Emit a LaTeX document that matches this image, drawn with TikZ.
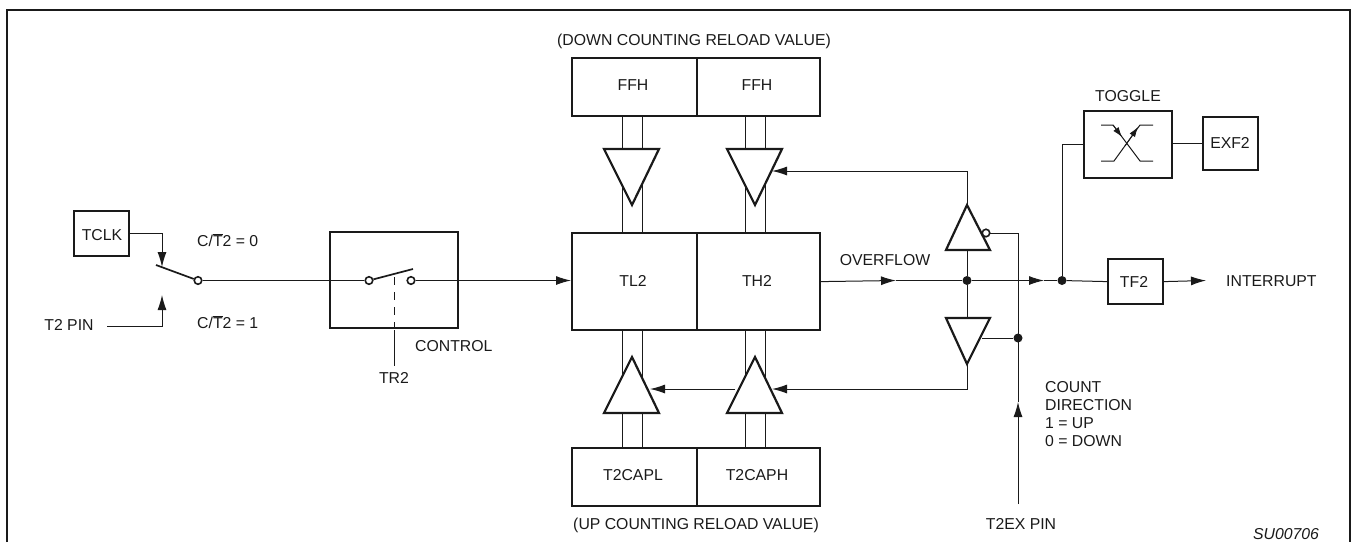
\documentclass[tikz,border=0pt]{standalone}
\usepackage{fontspec}
\setmainfont{Liberation Sans}
\usetikzlibrary{arrows.meta}
\definecolor{ink}{HTML}{1A1A1A}
\tikzset{
  x=1pt,y=-1pt,
  every node/.style={font=\fontsize{15.8}{18}\selectfont,text=ink,inner sep=0pt},
  thick box/.style={draw=ink,line width=2.2pt,line join=miter,anchor=north west},
  wire/.style={draw=ink,line width=1pt},
  tri/.style={draw=ink,line width=2.2pt,fill=white,line join=miter},
  arr/.style={wire,-{Latex[length=15pt,width=9pt]}},
  junction/.style={circle,fill=ink,minimum size=9pt},
  ring/.style={circle,draw=ink,line width=1.6pt,fill=white,minimum size=7.5pt},
}
\begin{document}
\begin{tikzpicture}
\useasboundingbox (0,0) rectangle (1353,542);
% frame
\draw[draw=ink,line width=2.4pt] (7,542) -- (7,10) -- (1350,10) -- (1350,542);
% boxes
\node[thick box,minimum width=55pt,minimum height=45pt] (tclk) at (73,210) {};
\node[thick box,minimum width=128pt,minimum height=96pt] (ctl) at (329,231) {};
\node[thick box,minimum width=125pt,minimum height=58pt] (ffhl) at (571,57) {};
\node[thick box,minimum width=123pt,minimum height=58pt] (ffhh) at (696,57) {};
\node[thick box,minimum width=125pt,minimum height=97pt] (tl) at (571,232) {};
\node[thick box,minimum width=123pt,minimum height=97pt] (th) at (696,232) {};
\node[thick box,minimum width=125pt,minimum height=58pt] (capl) at (571,447) {};
\node[thick box,minimum width=123pt,minimum height=58pt] (caph) at (696,447) {};
\node[thick box,minimum width=88pt,minimum height=67pt] (tog) at (1083,110) {};
\node[thick box,minimum width=55pt,minimum height=53pt] (exf) at (1202,116) {};
\node[thick box,minimum width=55pt,minimum height=45pt] (tf) at (1107,258) {};
% box texts
\node (ttclk) at (102,235) {TCLK};
\node (tffl) at (633,85) {FFH};
\node (tffh) at (757,85) {FFH};
\node (ttl) at (633,281) {TL2};
\node (tth) at (757,281) {TH2};
\node (tcl) at (633,475) {T2CAPL};
\node (tch) at (757,475) {T2CAPH};
\node (texf) at (1230,143) {EXF2};
\node (ttf) at (1134,282) {TF2};
% bus wires
\foreach \a in {622,642,745,765}{
  \draw[wire] (\a,115) -- (\a,232);
  \draw[wire] (\a,329) -- (\a,447);
}
% named points
\node[ring] (r1) at (198,280.5) {};
\node[ring] (r2) at (369,280.5) {};
\node[ring] (r3) at (411,280.5) {};
\coordinate (swtip) at (156,265);
\coordinate (ctop) at (413,269);
\node[junction] (d1) at (967,280.5) {};
\node[junction] (d2) at (1062,280.5) {};
\node[junction] (d3) at (1018,338) {};
\coordinate (ovtip) at (896,280.5);
\coordinate (mdtip) at (1044,280.5);
\coordinate (inttip) at (1206,280.5);
% horizontal wires
\draw[wire] (r1) -- (r2);
\draw[arr] (r3) -- (tl.west |- r3);
\draw[arr] (th.east) -- (ovtip);
\draw[wire] (ovtip) -- (d1);
\draw[arr] (d1) -- (mdtip);
\draw[wire] (mdtip) -- (d2);
\draw[wire] (d2) -- (tf.west);
\draw[arr] (tf.east) -- (inttip);
% input switch
\coordinate (tclkbend) at (162,233);
\draw[arr] (tclk.east |- tclkbend) -- (tclkbend) -- (162,267);
\coordinate (pinstart) at (107,326);
\draw[arr] (pinstart) -- (162,326) -- (162,295);
\draw[draw=ink,line width=1.7pt] (swtip) -- (r1);
% control switch
\draw[draw=ink,line width=1.7pt] (r2) -- (ctop);
\draw[wire,dash pattern=on 8pt off 7pt] (394,277) -- (394,327);
\draw[wire] (394,330) -- (394,366);
% toggle connections
\draw[wire] (d2) |- (tog.west);
\draw[wire] (tog.east |- exf.west) -- (exf.west);
% toggle symbol
\draw[wire] (1101,125) -- (1113,125) -- (1140,161) -- (1153,161);
\draw[wire] (1101,161) -- (1114,161) -- (1140,125) -- (1153,125);
\draw[-{Latex[length=10pt,width=6.5pt]},draw=ink,line width=0.8pt] (1113,125) -- (1122,137);
\draw[-{Latex[length=10pt,width=6.5pt]},draw=ink,line width=0.8pt] (1125,146) -- (1138,127);
% inverters feedback
\draw[wire] (d1) -- (967,250);
\draw[wire] (d1) -- (967,318);
\draw[arr] (967,205) -- (967,171) -- (772,171);
\draw[arr] (967,364) -- (967,389) -- (772,389);
\draw[arr] (735,389) -- (650,389);
% direction wire
\coordinate (t2ex) at (1018,504);
\draw[wire] (1018,402) -- (1018,233) -- (990,233);
\draw[arr] (t2ex) -- (1018,402);
\draw[wire] (d3) -- (982,338);
% triangles
\draw[tri] (604,149) -- (659,149) -- (632,205) -- cycle;
\draw[tri] (727,149) -- (782,149) -- (755,205) -- cycle;
\draw[tri] (604,413) -- (659,413) -- (632,357) -- cycle;
\draw[tri] (727,413) -- (782,413) -- (755,357) -- cycle;
\draw[tri] (946,250) -- (990,250) -- (967,205) -- cycle;
\draw[tri] (946,318) -- (990,318) -- (967,364) -- cycle;
\node[ring] (bub) at (986,233) {};
% labels
\node (lt2) at (69,325) {T2 PIN};
\node[anchor=west] (c0) at (197,240) {C/$\overline{\mbox{T}}$2 = 0};
\node[anchor=west] (c1) at (197,322) {C/$\overline{\mbox{T}}$2 = 1};
\node[anchor=west] (lctl) at (415,346) {CONTROL};
\node (ltr) at (394,378) {TR2};
\node (lup) at (694,41) {(DOWN COUNTING RELOAD VALUE)};
\node (ldn) at (696,525) {(UP COUNTING RELOAD VALUE)};
\node (lof) at (885,260) {OVERFLOW};
\node (ltg) at (1128,96) {TOGGLE};
\node[anchor=west] (lint) at (1226,281) {INTERRUPT};
\node[anchor=west] (l1) at (1045,387) {COUNT};
\node[anchor=west] (l2) at (1045,405) {DIRECTION};
\node[anchor=west] (l3) at (1045,423) {1 = UP};
\node[anchor=west] (l4) at (1045,441) {0 = DOWN};
\node (lpin) at (1021,524) {T2EX PIN};
\node[font=\fontsize{15.8}{18}\selectfont\itshape] (lsu) at (1286,534) {SU00706};
\end{tikzpicture}
\end{document}
